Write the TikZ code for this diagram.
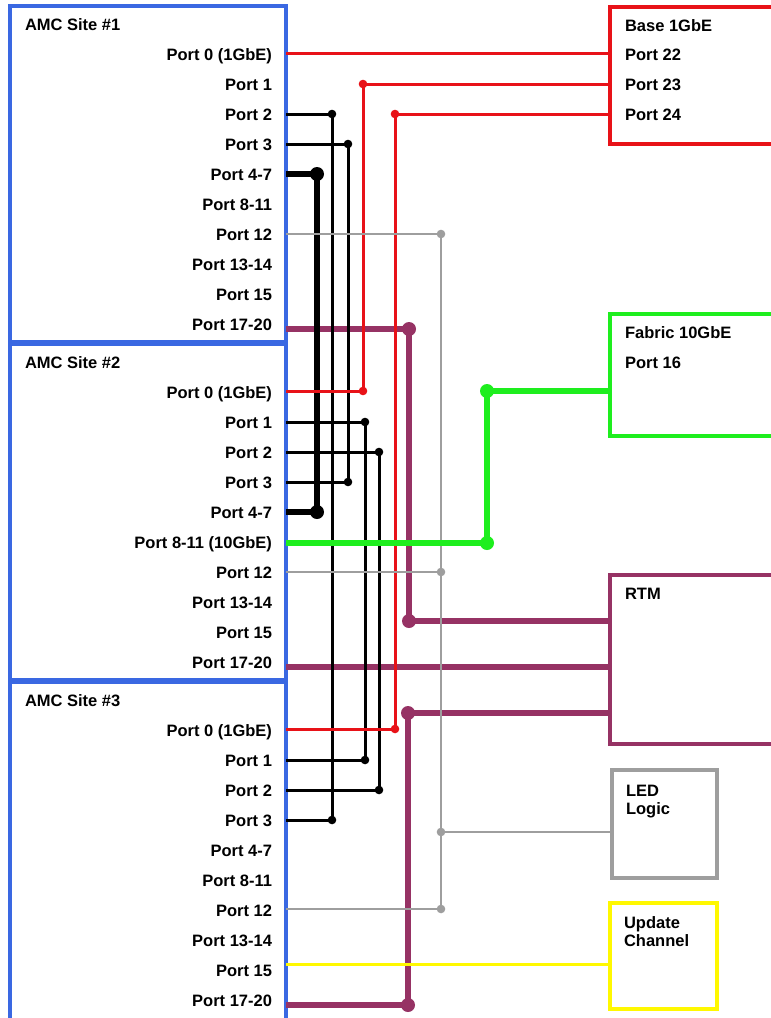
\documentclass[tikz,border=0pt]{standalone}
\usepackage{fontspec}
\setmainfont{Liberation Sans}
\definecolor{amcblue}{RGB}{58,104,226}
\definecolor{basered}{RGB}{232,18,24}
\definecolor{fabgreen}{RGB}{30,238,30}
\definecolor{rtmpurple}{RGB}{150,50,100}
\definecolor{ledgray}{RGB}{158,158,158}
\definecolor{updyellow}{RGB}{255,248,0}
\begin{document}
\begin{tikzpicture}[x=1pt,y=-1pt,
  lbl/.style={font=\fontsize{16.5}{19}\selectfont\bfseries, inner sep=0pt, outer sep=0pt},
  portlbl/.style={lbl, anchor=base east},
  titlelbl/.style={lbl, anchor=base west},
  box/.style={draw, line width=4pt, anchor=north west, inner sep=0pt, outer sep=0pt},
  redw/.style={draw=basered, line width=3pt},
  blkw/.style={draw=black, line width=3pt},
  blkthick/.style={draw=black, line width=6.5pt},
  grayw/.style={draw=ledgray, line width=2.8pt},
  purw/.style={draw=rtmpurple, line width=6.5pt},
  grnw/.style={draw=fabgreen, line width=6.5pt},
  ylww/.style={draw=updyellow, line width=3pt},
]
\useasboundingbox (0,0) rectangle (771,1018);
\clip (0,0) rectangle (771,1018);
\fill[white] (0,0) rectangle (771,1018);

% AMC site boxes
\node[box, draw=amcblue, minimum width=276pt, minimum height=336pt] (site1) at (10,6) {};
\node[box, draw=amcblue, minimum width=276pt, minimum height=336pt] (site2) at (10,344) {};
\node[box, draw=amcblue, minimum width=276pt, minimum height=350pt] (site3) at (10,682) {};
\foreach \s/\n in {0/1,1/2,2/3}{
  \node[titlelbl] (title\n) at (25,{24+338*\s+6}) {AMC Site \#\n};
  \foreach \r/\t in {0/{Port 0 (1GbE)},1/{Port 1},2/{Port 2},3/{Port 3},4/{Port 4-7},6/{Port 12},7/{Port 13-14},8/{Port 15},9/{Port 17-20}}{
    \node[portlbl] (lab\n-\r) at (272,{54+338*\s+30*\r+6}) {\t};
  }
}
\node[portlbl] (lab1-5) at (272,{54+150+6}) {Port 8-11};
\node[portlbl] (lab2-5) at (272,{54+338+150+6}) {Port 8-11 (10GbE)};
\node[portlbl] (lab3-5) at (272,{54+676+150+6}) {Port 8-11};

% right boxes
\node[box, draw=basered, line width=4.5pt, minimum width=200pt, minimum height=137pt] (base) at (610,7) {};
\node[titlelbl] (baset) at (625,31) {Base 1GbE};
\node[titlelbl] (base22) at (625,60) {Port 22};
\node[titlelbl] (base23) at (625,90) {Port 23};
\node[titlelbl] (base24) at (625,120) {Port 24};

\node[box, draw=fabgreen, minimum width=200pt, minimum height=122pt] (fabric) at (610,314) {};
\node[titlelbl] (fabt) at (625,338) {Fabric 10GbE};
\node[titlelbl] (fab16) at (625,368) {Port 16};

\node[box, draw=rtmpurple, minimum width=200pt, minimum height=169pt] (rtm) at (610,575) {};
\node[titlelbl] (rtmt) at (625,599) {RTM};

\node[box, draw=ledgray, minimum width=105pt, minimum height=108pt] (led) at (612,770) {};
\node[lbl, anchor=base west, align=left] (ledt) at (626,814) {LED\\[-1pt]Logic};

\node[box, draw=updyellow, minimum width=107pt, minimum height=106pt] (upd) at (610,903) {};
\node[lbl, anchor=base west, align=left] (updt) at (624,946) {Update\\[-1pt]Channel};

% port coordinates (site edges)
\coordinate (s1p0) at (286,53);
\coordinate (s1p2) at (286,114);
\coordinate (s1p3) at (286,144);
\coordinate (s1p47) at (286,174);
\coordinate (s1p12) at (286,234);
\coordinate (s1p17) at (286,329);
\coordinate (s2p0) at (286,391);
\coordinate (s2p1) at (286,422);
\coordinate (s2p2) at (286,452);
\coordinate (s2p3) at (286,482);
\coordinate (s2p47) at (286,512);
\coordinate (s2p811) at (286,543);
\coordinate (s2p12) at (286,572);
\coordinate (s2p17) at (286,667);
\coordinate (s3p0) at (286,729);
\coordinate (s3p1) at (286,760);
\coordinate (s3p2) at (286,790);
\coordinate (s3p3) at (286,820);
\coordinate (s3p12) at (286,909);
\coordinate (s3p15) at (286,964);
\coordinate (s3p17) at (286,1005);
% right box ports
\coordinate (b22) at (610,53);
\coordinate (b23) at (610,84);
\coordinate (b24) at (610,114);
\coordinate (f16) at (610,391);
\coordinate (r1) at (610,621);
\coordinate (r2) at (610,667);
\coordinate (r3) at (610,713);
\coordinate (ledin) at (612,832);
\coordinate (updin) at (610,964);
% junctions
\coordinate (jr1a) at (363,84);  \coordinate (jr1b) at (363,391);
\coordinate (jr2a) at (395,114); \coordinate (jr2b) at (395,729);
\coordinate (jk1a) at (332,114); \coordinate (jk1b) at (332,820);
\coordinate (jk2a) at (348,144); \coordinate (jk2b) at (348,482);
\coordinate (jk3a) at (365,422); \coordinate (jk3b) at (365,760);
\coordinate (jk4a) at (379,452); \coordinate (jk4b) at (379,790);
\coordinate (jt1a) at (317,174); \coordinate (jt1b) at (317,512);
\coordinate (jg1) at (441,234); \coordinate (jg2) at (441,572);
\coordinate (jg3) at (441,832); \coordinate (jg4) at (441,909);
\coordinate (jp1a) at (409,329); \coordinate (jp1b) at (409,621);
\coordinate (jp2a) at (408,713); \coordinate (jp2b) at (408,1005);
\coordinate (je1) at (487,391); \coordinate (je2) at (487,543);

% purple
\draw[purw] (s1p17) -- (jp1a) -- (jp1b) -- (r1);
\draw[purw] (s2p17) -- (r2);
\draw[purw] (s3p17) -- (jp2b) -- (jp2a) -- (r3);
\foreach \p in {jp1a,jp1b,jp2a,jp2b} \fill[rtmpurple] (\p) circle (7);

% black
\draw[blkw] (s1p2) -- (jk1a) -- (jk1b) -- (s3p3);
\draw[blkw] (s1p3) -- (jk2a) -- (jk2b) -- (s2p3);
\draw[blkw] (s2p1) -- (jk3a) -- (jk3b) -- (s3p1);
\draw[blkw] (s2p2) -- (jk4a) -- (jk4b) -- (s3p2);
\foreach \p in {jk1a,jk1b,jk2a,jk2b,jk3a,jk3b,jk4a,jk4b} \fill[black] (\p) circle (4.3);
\draw[blkthick] (s1p47) -- (jt1a) -- (jt1b) -- (s2p47);
\foreach \p in {jt1a,jt1b} \fill[black] (\p) circle (7);

% red
\draw[redw] (s1p0) -- (b22);
\draw[redw] (s2p0) -- (jr1b) -- (jr1a) -- (b23);
\draw[redw] (s3p0) -- (jr2b) -- (jr2a) -- (b24);
\foreach \p in {jr1a,jr1b,jr2a,jr2b} \fill[basered] (\p) circle (4.3);

% gray
\draw[grayw] (s1p12) -- (jg1) -- (jg4) -- (s3p12);
\draw[grayw] (s2p12) -- (jg2);
\draw[grayw] (jg3) -- (ledin);
\foreach \p in {jg1,jg2,jg3,jg4} \fill[ledgray] (\p) circle (4.3);

% green
\draw[grnw] (s2p811) -- (je2) -- (je1) -- (f16);
\foreach \p in {je1,je2} \fill[fabgreen] (\p) circle (7);

% yellow
\draw[ylww] (s3p15) -- (updin);
\end{tikzpicture}
\end{document}
